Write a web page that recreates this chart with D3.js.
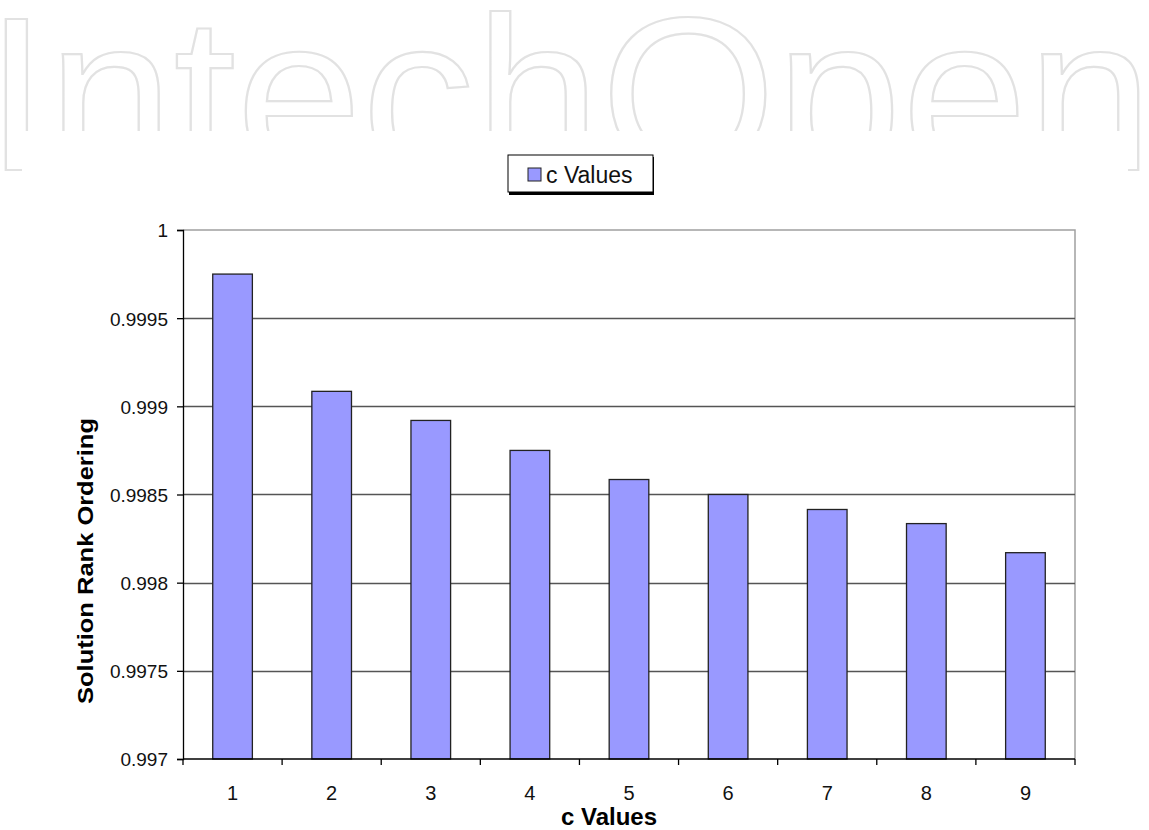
<!DOCTYPE html>
<html>
<head>
<meta charset="utf-8">
<script src="https://cdnjs.cloudflare.com/ajax/libs/d3/7.8.5/d3.min.js"></script>
<style>
  body { margin: 0; background: #fff; }
  svg { display: block; font-family: Arial, "Liberation Sans", sans-serif; }
</style>
</head>
<body>
<div id="chart"></div>
<script>
// data
var categories = ['1', '2', '3', '4', '5', '6', '7', '8', '9'];
var cValues = [0.99975, 0.999085, 0.99892, 0.99875, 0.998585, 0.9985, 0.998415, 0.998335, 0.99817];
var yTicks = [0.997, 0.9975, 0.998, 0.9985, 0.999, 0.9995, 1];
var yTickLabels = ['0.997', '0.9975', '0.998', '0.9985', '0.999', '0.9995', '1'];
var seriesName = 'c Values';

var W = 1149, H = 830;
var plot = {left: 183, top: 230, right: 1075, bottom: 759};

var svg = d3.select('#chart').append('svg')
    .attr('width', W)
    .attr('height', H);

// watermark behind the chart (lower part masked like the original)
svg.append('text')
    .attr('x', -15)
    .attr('y', 170)
    .attr('textLength', 1168)
    .attr('lengthAdjust', 'spacingAndGlyphs')
    .attr('font-size', 219)
    .attr('fill', 'none')
    .attr('stroke', '#e2e2e2')
    .attr('stroke-width', 2.2)
    .text('IntechOpen');
svg.append('rect')
    .attr('x', 22).attr('y', 131)
    .attr('width', 1106).attr('height', 90)
    .attr('fill', '#fff');

var x = d3.scaleBand()
    .domain(categories)
    .range([plot.left, plot.right])
    .paddingInner(0.6)
    .paddingOuter(0.3);

var xBand = d3.scaleBand()
    .domain(categories)
    .range([plot.left, plot.right]);

var y = d3.scaleLinear()
    .domain([0.997, 1])
    .range([plot.bottom, plot.top]);

// plot frame (top / right light)
svg.append('path')
    .attr('d', 'M' + plot.left + ',' + plot.top + 'H' + plot.right + 'V' + plot.bottom)
    .attr('fill', 'none')
    .attr('stroke', '#a0a0a0')
    .attr('stroke-width', 1.5);

// gridlines
svg.append('g').selectAll('line')
    .data(yTicks.filter(function(d) { return d > 0.997 && d < 1; }))
  .enter().append('line')
    .attr('x1', plot.left)
    .attr('x2', plot.right)
    .attr('y1', function(d) { return Math.round(y(d)) + 0.5; })
    .attr('y2', function(d) { return Math.round(y(d)) + 0.5; })
    .attr('stroke', '#555')
    .attr('stroke-width', 1.3);

// bars
svg.append('g').selectAll('rect')
    .data(cValues)
  .enter().append('rect')
    .attr('x', function(d, i) { return x(categories[i]); })
    .attr('y', function(d) { return y(d); })
    .attr('width', x.bandwidth())
    .attr('height', function(d) { return plot.bottom - y(d); })
    .attr('fill', '#9999ff')
    .attr('stroke', '#222')
    .attr('stroke-width', 1.3);

// y axis
var yAxis = d3.axisLeft(y)
    .tickValues(yTicks)
    .tickFormat(function(d, i) { return yTickLabels[i]; })
    .tickSize(6)
    .tickPadding(9);
var gy = svg.append('g')
    .attr('transform', 'translate(' + plot.left + ',0)')
    .call(yAxis);
gy.select('.domain').attr('stroke', '#000').attr('stroke-width', 1.3);
gy.selectAll('.tick line').attr('stroke', '#000').attr('stroke-width', 1.3);
gy.selectAll('.tick text')
    .attr('font-size', 19)
    .attr('dy', '0.36em')
    .attr('font-family', 'Arial, "Liberation Sans", sans-serif')
    .attr('fill', '#111');

// x axis: ticks between categories, labels centered
var gx = svg.append('g')
    .attr('transform', 'translate(0,' + plot.bottom + ')');
gx.append('line')
    .attr('x1', plot.left).attr('x2', plot.right)
    .attr('stroke', '#000').attr('stroke-width', 1.3);
var xTickPos = categories.map(function(c) { return xBand(c); }).concat([plot.right]);
gx.selectAll('.xtick')
    .data(xTickPos)
  .enter().append('line')
    .attr('x1', function(d) { return d; })
    .attr('x2', function(d) { return d; })
    .attr('y1', 0).attr('y2', 6)
    .attr('stroke', '#000').attr('stroke-width', 1.3);
gx.selectAll('.xlabel')
    .data(categories)
  .enter().append('text')
    .attr('x', function(d) { return xBand(d) + xBand.bandwidth() / 2; })
    .attr('y', 41)
    .attr('text-anchor', 'middle')
    .attr('font-size', 20)
    .attr('fill', '#111')
    .text(function(d) { return d; });

// axis titles
svg.append('text')
    .attr('x', 609)
    .attr('y', 825)
    .attr('text-anchor', 'middle')
    .attr('font-size', 24)
    .attr('font-weight', 'bold')
    .text('c Values');

svg.append('text')
    .attr('transform', 'translate(93,561) rotate(-90)')
    .attr('text-anchor', 'middle')
    .attr('font-size', 22)
    .attr('font-weight', 'bold')
    .attr('textLength', 286)
    .attr('lengthAdjust', 'spacingAndGlyphs')
    .text('Solution Rank Ordering');

// legend
var legend = svg.append('g').attr('transform', 'translate(508,155)');
legend.append('rect')
    .attr('x', 1).attr('y', 2)
    .attr('width', 145).attr('height', 38)
    .attr('fill', '#000');
legend.append('rect')
    .attr('width', 145).attr('height', 37)
    .attr('fill', '#fff')
    .attr('stroke', '#000')
    .attr('stroke-width', 1);
legend.append('rect')
    .attr('x', 20).attr('y', 13)
    .attr('width', 13).attr('height', 13)
    .attr('fill', '#9999ff')
    .attr('stroke', '#222')
    .attr('stroke-width', 1);
legend.append('text')
    .attr('x', 38).attr('y', 28)
    .attr('font-size', 23)
    .attr('fill', '#111')
    .text(seriesName);
</script>
</body>
</html>
